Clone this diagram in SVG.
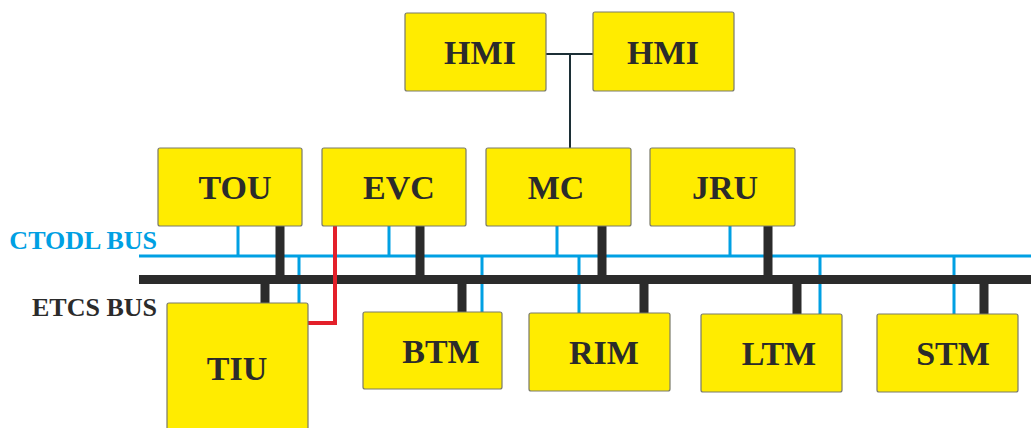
<svg xmlns="http://www.w3.org/2000/svg" width="1031" height="428" viewBox="0 0 1031 428">
<style>
.box{fill:#ffec00;stroke:#7a7a6a;stroke-width:1.2}
.lbl{font-family:"Liberation Serif","Times New Roman",serif;font-weight:bold;font-size:34px;fill:#2b2b2b;text-anchor:middle}
.bus{font-family:"Liberation Serif","Times New Roman",serif;font-weight:bold;font-size:26px;text-anchor:end}
.blue{stroke:#00a0e3;stroke-width:3;fill:none}
.blk{stroke:#2b2b2b;stroke-width:9;fill:none}
.red{stroke:#e3202a;stroke-width:4;fill:none}
.hmi{stroke:#1c2f36;stroke-width:2;fill:none}
</style>
<rect width="1031" height="428" fill="#ffffff"/>
<g id="connectors">
  <path class="hmi" d="M546 54H593M570 54V148"/>
  <g id="ctodl">
    <path class="blue" d="M139 256H1031"/>
    <path class="blue" d="M238 226V256M389 226V256M557 226V256M730 226V256"/>
    <path class="blue" d="M299 256V303M482 256V312M579 256V313M820 256V314M954 256V314"/>
  </g>
  <g id="etcs">
    <path class="blk" d="M139 279.5H1031"/>
    <path class="blk" d="M280 226V279M420 226V279M602 226V279M768 226V279"/>
    <path class="blk" d="M265 279V303M462 279V312M644 279V313M797 279V314M984 279V314"/>
  </g>
  <path class="red" d="M335 226V323H308"/>
</g>
<text class="bus" x="157" y="249" fill="#00a0e3">CTODL BUS</text>
<text class="bus" x="157" y="316" fill="#2b2b2b">ETCS BUS</text>
<g id="hmi1"><rect class="box" x="405" y="13" width="141" height="78" rx="2"/><text class="lbl" x="480" y="64">HMI</text></g>
<g id="hmi2"><rect class="box" x="593" y="12" width="141" height="79" rx="2"/><text class="lbl" x="663" y="64">HMI</text></g>
<g id="tou"><rect class="box" x="158" y="148" width="144" height="78" rx="2"/><text class="lbl" x="235" y="199">TOU</text></g>
<g id="evc"><rect class="box" x="322" y="148" width="144" height="78" rx="2"/><text class="lbl" x="399" y="199">EVC</text></g>
<g id="mc"><rect class="box" x="486" y="148" width="145" height="78" rx="2"/><text class="lbl" x="556" y="199">MC</text></g>
<g id="jru"><rect class="box" x="650" y="148" width="145" height="78" rx="2"/><text class="lbl" x="725" y="199">JRU</text></g>
<g id="tiu"><rect class="box" x="167" y="303" width="141" height="135" rx="2"/><text class="lbl" x="237" y="380">TIU</text></g>
<g id="btm"><rect class="box" x="363" y="312" width="139" height="77" rx="2"/><text class="lbl" x="441" y="363">BTM</text></g>
<g id="rim"><rect class="box" x="529" y="313" width="141" height="78" rx="2"/><text class="lbl" x="604" y="364">RIM</text></g>
<g id="ltm"><rect class="box" x="701" y="314" width="141" height="78" rx="2"/><text class="lbl" x="779" y="365">LTM</text></g>
<g id="stm"><rect class="box" x="877" y="314" width="141" height="78" rx="2"/><text class="lbl" x="953" y="365">STM</text></g>
</svg>
